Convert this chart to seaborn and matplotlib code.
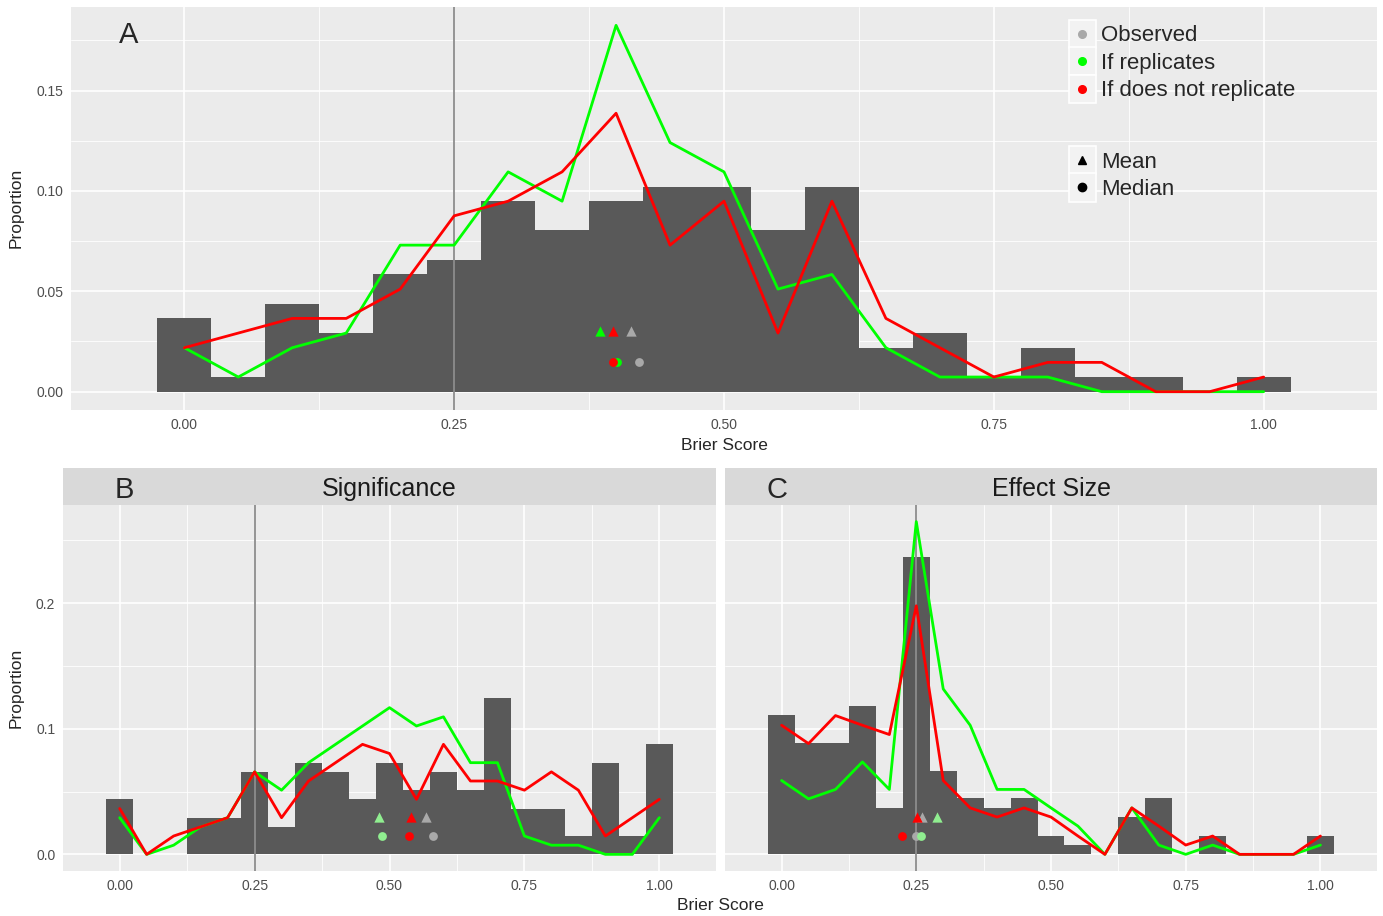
import numpy as np
import pandas as pd
import matplotlib
matplotlib.use('Agg')
import matplotlib.pyplot as plt
import seaborn as sns
from matplotlib.patches import Rectangle
from matplotlib.lines import Line2D
from matplotlib.legend_handler import HandlerBase
from matplotlib.ticker import MultipleLocator, FormatStrFormatter

# ------------------------------------------------------- #
#                         DATA                            #
# ------------------------------------------------------- #
brier = [0.00, 0.05, 0.10, 0.15, 0.20, 0.25, 0.30, 0.35, 0.40, 0.45, 0.50,
         0.55, 0.60, 0.65, 0.70, 0.75, 0.80, 0.85, 0.90, 0.95, 1.00]

# Panel A - all studies
obs_all = [0.0365, 0.0073, 0.0438, 0.0292, 0.0584, 0.0657, 0.0949, 0.0803, 0.0949, 0.1022, 0.1022,
           0.0803, 0.1022, 0.0219, 0.0292, 0.0073, 0.0219, 0.0073, 0.0073, 0.0, 0.0073]
rep_all = [0.0219, 0.0073, 0.0219, 0.0292, 0.0730, 0.0730, 0.1095, 0.0949, 0.1825, 0.1241, 0.1095,
           0.0511, 0.0584, 0.0219, 0.0073, 0.0073, 0.0073, 0.0, 0.0, 0.0, 0.0]
norep_all = [0.0219, 0.0292, 0.0365, 0.0365, 0.0511, 0.0876, 0.0949, 0.1095, 0.1387, 0.0730, 0.0949,
             0.0292, 0.0949, 0.0365, 0.0219, 0.0073, 0.0146, 0.0146, 0.0, 0.0, 0.0073]

# Panel B - significance
obs_sig = [0.0438, 0.0, 0.0, 0.0292, 0.0292, 0.0657, 0.0219, 0.0730, 0.0657, 0.0438, 0.0730,
           0.0511, 0.0657, 0.0511, 0.1241, 0.0365, 0.0365, 0.0146, 0.0730, 0.0146, 0.0876]
rep_sig = [0.0292, 0.0, 0.0073, 0.0219, 0.0292, 0.0657, 0.0511, 0.0730, 0.0876, 0.1022, 0.1168,
           0.1022, 0.1095, 0.0730, 0.0730, 0.0146, 0.0073, 0.0073, 0.0, 0.0, 0.0292]
norep_sig = [0.0365, 0.0, 0.0146, 0.0219, 0.0292, 0.0657, 0.0292, 0.0584, 0.0730, 0.0876, 0.0803,
             0.0438, 0.0876, 0.0584, 0.0584, 0.0511, 0.0657, 0.0511, 0.0146, 0.0292, 0.0438]

# Panel C - effect size
obs_eff = [0.111, 0.089, 0.089, 0.118, 0.037, 0.237, 0.0665, 0.0445, 0.037, 0.0445, 0.015,
           0.0074, 0.0, 0.0297, 0.0445, 0.0, 0.015, 0.0, 0.0, 0.0, 0.015]
rep_eff = [0.0588, 0.0442, 0.0517, 0.0736, 0.0517, 0.2649, 0.1317, 0.1028, 0.0517, 0.0517, 0.037,
           0.0225, 0.0, 0.037, 0.0074, 0.0, 0.0074, 0.0, 0.0, 0.0, 0.0074]
norep_eff = [0.1028, 0.0882, 0.1105, 0.1028, 0.0954, 0.1979, 0.0588, 0.037, 0.0297, 0.037, 0.0297,
             0.0146, 0.0, 0.037, 0.0225, 0.0074, 0.0146, 0.0, 0.0, 0.0, 0.0146]

# Mean / median (order: observed, replicates, does not replicate)
mean_all = [0.414, 0.385, 0.397]
median_all = [0.4216, 0.4006, 0.3975]
mean_sig = [0.568, 0.481, 0.539]
median_sig = [0.580, 0.487, 0.537]
mean_eff = [0.261, 0.2876, 0.2517]
median_eff = [0.250, 0.258, 0.224]

MEAN_Y = 0.03
MEDIAN_Y = 0.015
THRESHOLD = 0.25

legend_groups = ['Observed', 'If replicates', 'If does not replicate']
legend_stats = ['Mean', 'Median']

# ------------------------------------------------------- #
#                         STYLE                           #
# ------------------------------------------------------- #
sns.set_theme(style='darkgrid', rc={
    'axes.facecolor': '#EBEBEB',
    'grid.color': 'white',
    'axes.edgecolor': '#EBEBEB',
})
plt.rcParams['font.family'] = ['Liberation Sans', 'DejaVu Sans']

HIST_COL = '#595959'
GREEN = '#00FF00'
RED = '#FF0000'
GRAY = '#A9A9A9'
LIGHTGREEN = '#90EE90'


class KeyHandler(HandlerBase):
    """ggplot-like legend key: light box with a marker in the middle"""
    def create_artists(self, legend, orig_handle, xdescent, ydescent,
                       width, height, fontsize, trans):
        box = Rectangle((-xdescent, -ydescent - 3), width, height + 6,
                        facecolor='#F2F2F2', edgecolor='white', lw=1.2,
                        transform=trans)
        mk = Line2D([width / 2 - xdescent], [height / 2 - ydescent],
                    marker=orig_handle.get_marker(), color=orig_handle.get_color(),
                    markersize=orig_handle.get_markersize(), linestyle='none',
                    transform=trans)
        return [box, mk]


def draw_panel(ax, obs, rep, norep, means, medians, marker_cols, ylim, ymajor, yfmt):
    df = pd.DataFrame({'brier': brier, 'obs': obs, 'rep': rep, 'norep': norep})
    sns.histplot(data=df, x='brier', weights='obs', binwidth=0.05,
                 binrange=(brier[0] - 0.025, brier[-1] + 0.025), element='step', fill=True,
                 color=HIST_COL, alpha=1, linewidth=0, ax=ax)
    ax.axvline(THRESHOLD, color='#8C8C8C', lw=1.3, zorder=3)
    sns.lineplot(data=df, x='brier', y='rep', color=GREEN, lw=2, ax=ax, zorder=4)
    sns.lineplot(data=df, x='brier', y='norep', color=RED, lw=2, ax=ax, zorder=4)
    for i, col in enumerate(marker_cols):
        sns.scatterplot(x=[means[i]], y=[MEAN_Y], marker='^', color=col, s=55,
                        linewidth=0, ax=ax, zorder=5)
        sns.scatterplot(x=[medians[i]], y=[MEDIAN_Y], marker='o', color=col, s=40,
                        linewidth=0, ax=ax, zorder=5)
    ax.set_xlim(-0.105, 1.105)
    ax.set_ylim(*ylim)
    ax.xaxis.set_major_locator(MultipleLocator(0.25))
    ax.xaxis.set_minor_locator(MultipleLocator(0.125))
    ax.yaxis.set_major_locator(MultipleLocator(ymajor))
    ax.yaxis.set_minor_locator(MultipleLocator(ymajor / 2))
    ax.xaxis.set_major_formatter(FormatStrFormatter('%.2f'))
    ax.yaxis.set_major_formatter(FormatStrFormatter(yfmt))
    ax.grid(which='major', color='white', lw=1.2)
    ax.grid(which='minor', color='white', lw=0.6)
    ax.set_axisbelow(True)
    ax.set_xlabel('')
    ax.set_ylabel('')
    ax.tick_params(which='major', length=3.5, width=1, color='#333333',
                   labelsize=10, labelcolor='#4D4D4D', pad=2)
    ax.tick_params(which='minor', length=0)
    for s in ax.spines.values():
        s.set_visible(False)


fig = plt.figure(figsize=(13.83, 9.16), dpi=100)
W, H = 1383, 916

# ------------------------------------------------------- #
#                        PANEL A                          #
# ------------------------------------------------------- #
axA = fig.add_axes([71 / W, 1 - 410 / H, 1306 / W, 403 / H])
ymaxA = max(max(obs_all), max(rep_all), max(norep_all))
draw_panel(axA, obs_all, rep_all, norep_all, mean_all, median_all,
           [GRAY, GREEN, RED], (-0.05 * ymaxA, 1.05 * ymaxA), 0.05, '%.2f')
axA.text(-0.052, 0.1794, 'A', fontsize=21, ha='center', va='center_baseline')

h1 = [Line2D([], [], marker='o', color=c, ls='none', markersize=5.5)
      for c in [GRAY, GREEN, RED]]
leg1 = axA.legend(h1, legend_groups, loc='upper left', bbox_to_anchor=(0.764, 0.958),
                  frameon=False, fontsize=16, handlelength=1.22, handleheight=1.0,
                  handletextpad=0.25, labelspacing=0.22, borderpad=0, borderaxespad=0,
                  handler_map={Line2D: KeyHandler()})
axA.add_artist(leg1)
h2 = [Line2D([], [], marker=m, color='black', ls='none', markersize=6)
      for m in ['^', 'o']]
axA.legend(h2, legend_stats, loc='upper left', bbox_to_anchor=(0.764, 0.645),
           frameon=False, fontsize=16, handlelength=1.22, handleheight=1.0,
           handletextpad=0.25, labelspacing=0.22, borderpad=0, borderaxespad=0,
           handler_map={Line2D: KeyHandler()})

fig.text(16 / W, 1 - 208 / H, 'Proportion', rotation=90, ha='center', va='center', fontsize=12.5)
fig.text(724 / W, 1 - 445 / H, 'Brier Score', ha='center', va='center', fontsize=12.5)

# ------------------------------------------------------- #
#                     PANELS B AND C                      #
# ------------------------------------------------------- #
axB = fig.add_axes([63 / W, 1 - 871 / H, 653 / W, 366 / H])
axC = fig.add_axes([725 / W, 1 - 871 / H, 652 / W, 366 / H])
ymaxBC = max(max(obs_sig), max(rep_sig), max(norep_sig),
             max(obs_eff), max(rep_eff), max(norep_eff))
ylimBC = (-0.05 * ymaxBC, 1.05 * ymaxBC)

draw_panel(axB, obs_sig, rep_sig, norep_sig, mean_sig, median_sig,
           [GRAY, LIGHTGREEN, RED], ylimBC, 0.1, '%.1f')
draw_panel(axC, obs_eff, rep_eff, norep_eff, mean_eff, median_eff,
           [GRAY, LIGHTGREEN, RED], ylimBC, 0.1, '%.1f')
axC.tick_params(axis='y', which='both', length=0, labelleft=False)

strip_h = 37 / 366
for ax, title, tag, tag_x in [(axB, 'Significance', 'B', 0.008), (axC, 'Effect Size', 'C', -0.009)]:
    ax.add_patch(Rectangle((0, 1), 1, strip_h, transform=ax.transAxes,
                           facecolor='#D9D9D9', lw=0, clip_on=False))
    ax.text(0.5, 1 + strip_h / 2, title, transform=ax.transAxes, ha='center',
            va='center_baseline', fontsize=18, color='#1A1A1A')
    ax.text(tag_x, 1 + strip_h / 2, tag, transform=ax.get_xaxis_transform(),
            ha='center', va='center_baseline', fontsize=21)

fig.text(16 / W, 1 - 688 / H, 'Proportion', rotation=90, ha='center', va='center', fontsize=12.5)
fig.text(720 / W, 1 - 906 / H, 'Brier Score', ha='center', va='center', fontsize=12.5)

fig.savefig('out.png', dpi=100)
